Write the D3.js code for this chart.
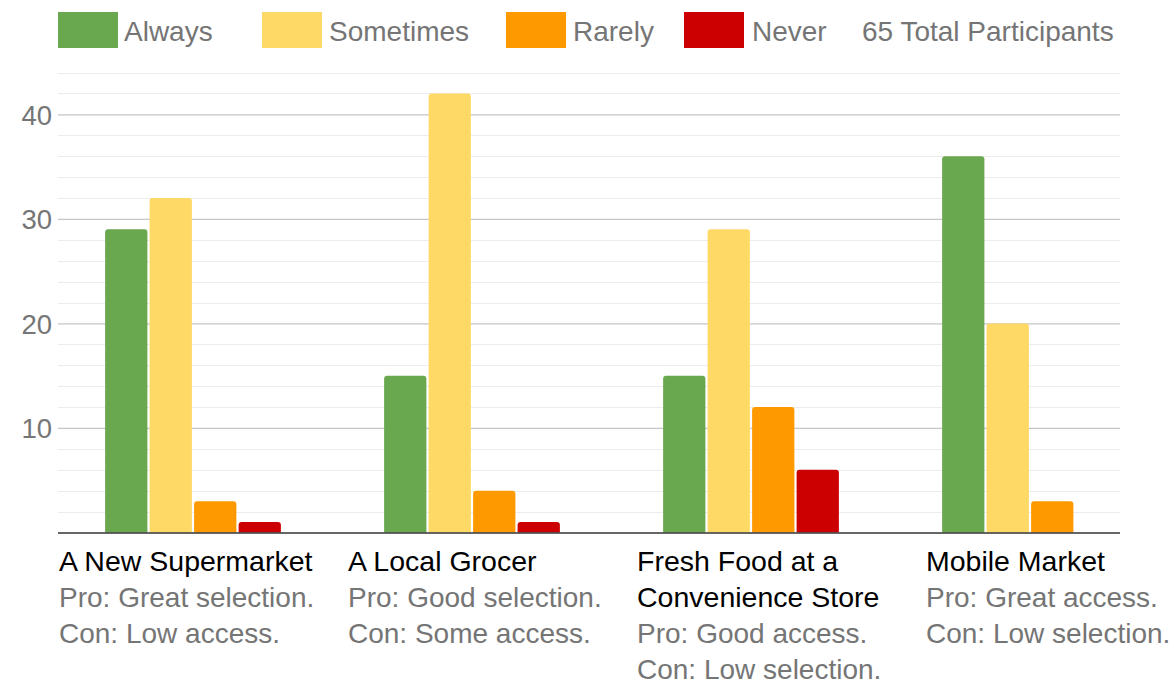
<!DOCTYPE html>
<html>
<head>
<meta charset="utf-8">
<script src="https://cdn.jsdelivr.net/npm/d3@7"></script>
<style>
  html, body { margin: 0; padding: 0; background: #fff; }
  svg { display: block; font-family: "Liberation Sans", Arial, Helvetica, sans-serif; }
</style>
</head>
<body>
<svg id="chart" width="1173" height="685"></svg>
<script>
// ---------- data ----------
const categories = ["A New Supermarket", "A Local Grocer", "Fresh Food at a Convenience Store", "Mobile Market"];
const pros = ["Pro: Great selection.", "Pro: Good selection.", "Pro: Good access.", "Pro: Great access."];
const cons = ["Con: Low access.", "Con: Some access.", "Con: Low selection.", "Con: Low selection."];
const seriesNames = ["Always", "Sometimes", "Rarely", "Never"];
const always    = [29, 15, 15, 36];
const sometimes = [32, 42, 29, 20];
const rarely    = [3, 4, 12, 3];
const never     = [1, 1, 6, 0];
const seriesColors = ["#6aa84f", "#ffd966", "#ff9900", "#cc0000"];
const majorTicks = [10, 20, 30, 40];
const yMax = 44;
const legendNote = "65 Total Participants";

// ---------- layout ----------
const svg = d3.select("#chart");
const plotLeft = 58, plotRight = 1120;
const seriesValues = [always, sometimes, rarely, never];
const rows = categories.map((c, i) => ({ cat: c, values: seriesNames.map((s, j) => ({ key: s, value: seriesValues[j][i] })) }));

const y = d3.scaleLinear().domain([0, yMax]).range([532.5, 72.5]);
const x0 = d3.scaleBand().domain(categories).range([53.5, 1169.5]).paddingInner(0.37).paddingOuter(0.185);
const x1 = d3.scaleBand().domain(seriesNames).range([0, x0.bandwidth()]).paddingInner(0.05).paddingOuter(0);
const color = d3.scaleOrdinal().domain(seriesNames).range(seriesColors);
const xl = d3.scaleBand().domain(categories).range([59, 59 + 4 * 289]);

// minor grid
const minorTicks = d3.range(2, yMax + 1, 2).filter(t => !majorTicks.includes(t));
svg.append("g").selectAll("line").data(minorTicks).join("line")
  .attr("x1", plotLeft).attr("x2", plotRight)
  .attr("y1", d => Math.round(y(d)) + 0.5).attr("y2", d => Math.round(y(d)) + 0.5)
  .attr("stroke", "#ececec").attr("stroke-width", 1);

// major grid via axis
const yAxis = d3.axisLeft(y).tickValues(majorTicks).tickSize(-(plotRight - plotLeft)).tickPadding(6).tickFormat(d3.format("d"));
const gy = svg.append("g").attr("transform", `translate(${plotLeft},0)`).call(yAxis);
gy.select(".domain").remove();
gy.selectAll(".tick line").attr("stroke", "#c6c6c6").attr("stroke-width", 1.3);
gy.selectAll(".tick text")
  .attr("fill", "#757575").attr("font-size", 27.5)
  .attr("font-family", "'Liberation Sans', Arial, sans-serif")
  .attr("dy", "0.36em");

// bars
function topRounded(xp, yp, w, h, r) {
  r = Math.min(r, h, w / 2);
  return `M${xp},${yp + h}V${yp + r}Q${xp},${yp} ${xp + r},${yp}H${xp + w - r}Q${xp + w},${yp} ${xp + w},${yp + r}V${yp + h}Z`;
}
const groups = svg.append("g").selectAll("g").data(rows).join("g")
  .attr("transform", d => `translate(${x0(d.cat)},0)`);
groups.selectAll("path").data(d => d.values.filter(v => v.value > 0)).join("path")
  .attr("d", v => topRounded(x1(v.key), y(v.value), x1.bandwidth(), y(0) - y(v.value), 3))
  .attr("fill", v => color(v.key));

// baseline
svg.append("line").attr("x1", plotLeft).attr("x2", plotRight)
  .attr("y1", y(0) + 0.5).attr("y2", y(0) + 0.5)
  .attr("stroke", "#333").attr("stroke-width", 1.5);

// category labels
const lineH = 36;
const labelG = svg.append("g");
function wrapLines(text, maxW, size) {
  const tmp = svg.append("text").attr("font-size", size);
  const words = text.split(" ");
  const lines = [];
  let cur = "";
  words.forEach(w => {
    const test = cur ? cur + " " + w : w;
    tmp.text(test);
    if (tmp.node().getComputedTextLength() > maxW && cur) { lines.push(cur); cur = w; }
    else cur = test;
  });
  if (cur) lines.push(cur);
  tmp.remove();
  return lines;
}
categories.forEach((c, i) => {
  const titleLines = wrapLines(c, 268, 28.5);
  const all = titleLines.map(t => ({ t, fill: "#000", size: 28.5 }))
    .concat([{ t: pros[i], fill: "#757575", size: 28 }, { t: cons[i], fill: "#757575", size: 28 }]);
  labelG.selectAll(null).data(all).join("text")
    .attr("x", xl(c))
    .attr("y", (d, k) => 570.5 + k * lineH)
    .attr("font-size", d => d.size)
    .attr("fill", d => d.fill)
    .text(d => d.t);
});

// legend
const legendX = [58, 262, 506, 684];
const legendTextX = [124, 329, 573, 752];
const lg = svg.append("g");
seriesNames.forEach((s, i) => {
  lg.append("rect").attr("x", legendX[i]).attr("y", 12).attr("width", 60).attr("height", 36).attr("fill", color(s));
  lg.append("text").attr("x", legendTextX[i]).attr("y", 40.5)
    .attr("font-size", 28).attr("fill", "#757575").text(s);
});
lg.append("text").attr("x", 862).attr("y", 40.5)
  .attr("font-size", 28).attr("fill", "#757575").text(legendNote);
</script>
</body>
</html>
